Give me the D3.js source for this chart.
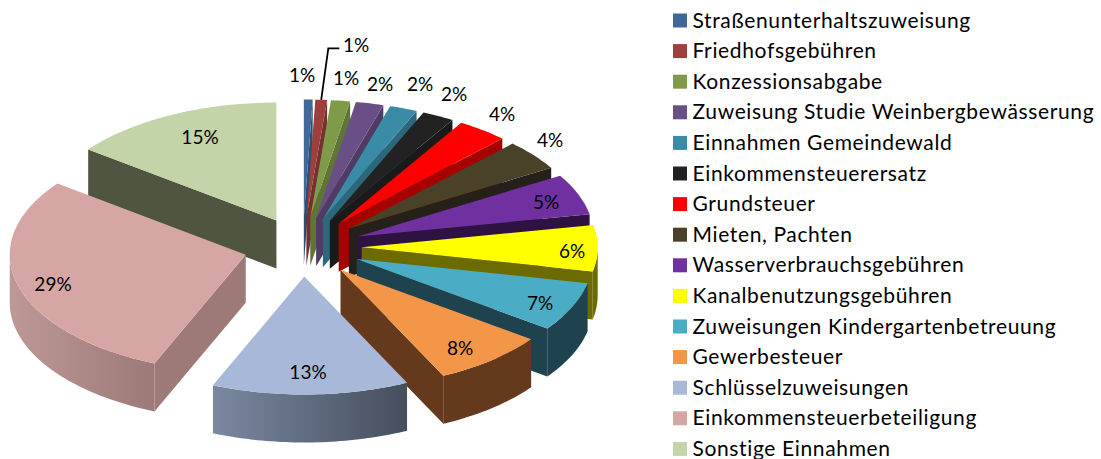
<!DOCTYPE html>
<html>
<head>
<meta charset="utf-8">
<script src="https://d3js.org/d3.v7.min.js"></script>
<style>
    body { margin: 0; background: #fff; }
    text { font-family: Lato, "Open Sans", sans-serif; fill: #000; }
</style>
</head>
<body>
<svg id="drawing_region"></svg>
<script>
const categories = [
    "Straßenunterhaltszuweisung", "Friedhofsgebühren", "Konzessionsabgabe",
    "Zuweisung Studie Weinbergbewässerung", "Einnahmen Gemeindewald", "Einkommensteuerersatz",
    "Grundsteuer", "Mieten, Pachten", "Wasserverbrauchsgebühren", "Kanalbenutzungsgebühren",
    "Zuweisungen Kindergartenbetreuung", "Gewerbesteuer", "Schlüsselzuweisungen",
    "Einkommensteuerbeteiligung", "Sonstige Einnahmen"
];
// slice shares
const values = [0.6, 0.8, 1.3, 1.9, 1.9, 2.2, 3.5, 4.2, 5.6, 6.3, 6.75, 7.8, 13.5, 29, 14.7];
const percentLabels = ["1%", "1%", "1%", "2%", "2%", "2%", "4%", "4%", "5%", "6%", "7%", "8%", "13%", "29%", "15%"];
const topColors = ["#3f6797", "#9c3f3d", "#7f9b49", "#6a4f86", "#3a8ba5", "#222222", "#ff0000", "#4a4228",
    "#7030a0", "#ffff00", "#4bacc6", "#f49647", "#a8b8d8", "#d6a6a5", "#c3d4a8"];
const wallColors = ["#2f4d71", "#753030", "#5f7437", "#503b64", "#2b687c", "#1a1a1a", "#a60000", "#25211a",
    "#2e1342", "#6b6b00", "#1f434e", "#653a1c", "#4a5364", "#9e7a77", "#4f5541"];
const wallGradients = { 12: ["#7a88a0", "#454e5d"], 13: ["#bd9896", "#9c7a78"] };

// hand placed labels, as in the original
const labelPos = [[302, 74], [356, 44], [346, 77], [380, 83], [420, 83], [454, 93], [502, 113], [550, 139],
    [546, 201], [572, 250], [540, 302], [460, 347], [308, 371], [53, 283], [200, 136]];

const config = {
    width: 1101,
    height: 459,
    cx: 302.7,
    cy: 247,
    rx: 236,
    ry: 118,
    depth: 48,
    explode: 0.25,
    legend: { swatchX: 673, swatch: 14, textX: 692.5, firstY: 20.5, step: 30.6, fontSize: 21, spacing: 0.64, textDy: -1.5 },
    labelSize: 19
};

const svg = d3.select("#drawing_region")
    .attr("width", config.width)
    .attr("height", config.height)
    .style("display", "block");

const xscale = d3.scaleLinear().domain([-1, 1]).range([config.cx - config.rx, config.cx + config.rx]);
const yscale = d3.scaleLinear().domain([-1, 1]).range([config.cy - config.ry, config.cy + config.ry]);

const pie = d3.pie().sort(null).startAngle(0).endAngle(2 * Math.PI);
const slices = pie(values).map((d, i) => {
    const mid = (d.startAngle + d.endAngle) / 2;
    return { i, a0: d.startAngle, a1: d.endAngle, mid,
        ox: config.explode * Math.sin(mid), oy: -config.explode * Math.cos(mid) };
});

// point of a slice on its rim (r=1) or hub (r=0), optionally dropped to the base
const pt = (s, a, r, drop) => [
    xscale(s.ox + r * Math.sin(a)),
    yscale(s.oy - r * Math.cos(a)) + (drop ? config.depth : 0)
];
const arcAngles = (a0, a1) => {
    const n = Math.max(2, Math.ceil((a1 - a0) / 0.02));
    return d3.range(n + 1).map(k => a0 + (a1 - a0) * k / n);
};
const line = d3.line();

const defs = svg.append("defs");
Object.keys(wallGradients).forEach(k => {
    const g = defs.append("linearGradient").attr("id", `wall${k}`);
    g.append("stop").attr("offset", "0%").attr("stop-color", wallGradients[k][0]);
    g.append("stop").attr("offset", "100%").attr("stop-color", wallGradients[k][1]);
});

// back slices first, the front ones paint over them
const order = slices.slice().sort((a, b) => d3.descending(Math.cos(a.mid), Math.cos(b.mid)));
const chart = svg.append("g");

order.forEach(s => {
    const g = chart.append("g");
    const wallFill = wallColors[s.i];

    // radial side walls
    [[s.a1, Math.sin(s.a1) > 0], [s.a0, Math.sin(s.a0) < 0]].forEach(([a, visible]) => {
        if (!visible) return;
        g.append("path")
            .attr("d", line([pt(s, a, 0), pt(s, a, 1), pt(s, a, 1, true), pt(s, a, 0, true)]) + "Z")
            .attr("fill", wallFill);
    });

    // rim wall, only the part facing the viewer
    const from = Math.max(s.a0, Math.PI / 2);
    const to = Math.min(s.a1, 3 * Math.PI / 2);
    if (to > from) {
        const angles = arcAngles(from, to);
        const pts = angles.map(a => pt(s, a, 1)).concat(angles.slice().reverse().map(a => pt(s, a, 1, true)));
        g.append("path")
            .attr("d", line(pts) + "Z")
            .attr("fill", wallGradients[s.i] ? `url(#wall${s.i})` : wallFill);
    }

    // top face
    const top = [pt(s, s.a0, 0)].concat(arcAngles(s.a0, s.a1).map(a => pt(s, a, 1)));
    g.append("path")
        .attr("d", line(top) + "Z")
        .attr("fill", topColors[s.i]);
});

// leader line of the second label
const leaderStart = pt(slices[1], slices[1].mid, 1);
svg.append("path")
    .attr("d", line([leaderStart, [328.3, 48.3], [339.3, 48.3]]))
    .attr("fill", "none")
    .attr("stroke", "#000")
    .attr("stroke-width", 1.8);

svg.append("g").selectAll("text")
    .data(percentLabels)
    .join("text")
    .attr("x", (d, i) => labelPos[i][0])
    .attr("y", (d, i) => labelPos[i][1])
    .attr("text-anchor", "middle")
    .attr("dominant-baseline", "central")
    .style("font-size", config.labelSize + "px")
    .text(d => d);

// legend
const lg = config.legend;
const legend = svg.append("g").selectAll("g")
    .data(categories)
    .join("g")
    .attr("transform", (d, i) => `translate(0, ${lg.firstY + i * lg.step})`);

legend.append("rect")
    .attr("x", lg.swatchX)
    .attr("y", -lg.swatch / 2)
    .attr("width", lg.swatch)
    .attr("height", lg.swatch)
    .attr("fill", (d, i) => topColors[i]);

legend.append("text")
    .attr("x", lg.textX)
    .attr("y", lg.textDy)
    .attr("dominant-baseline", "central")
    .style("font-size", lg.fontSize + "px")
    .style("letter-spacing", lg.spacing + "px")
    .text(d => d);
</script>
</body>
</html>
